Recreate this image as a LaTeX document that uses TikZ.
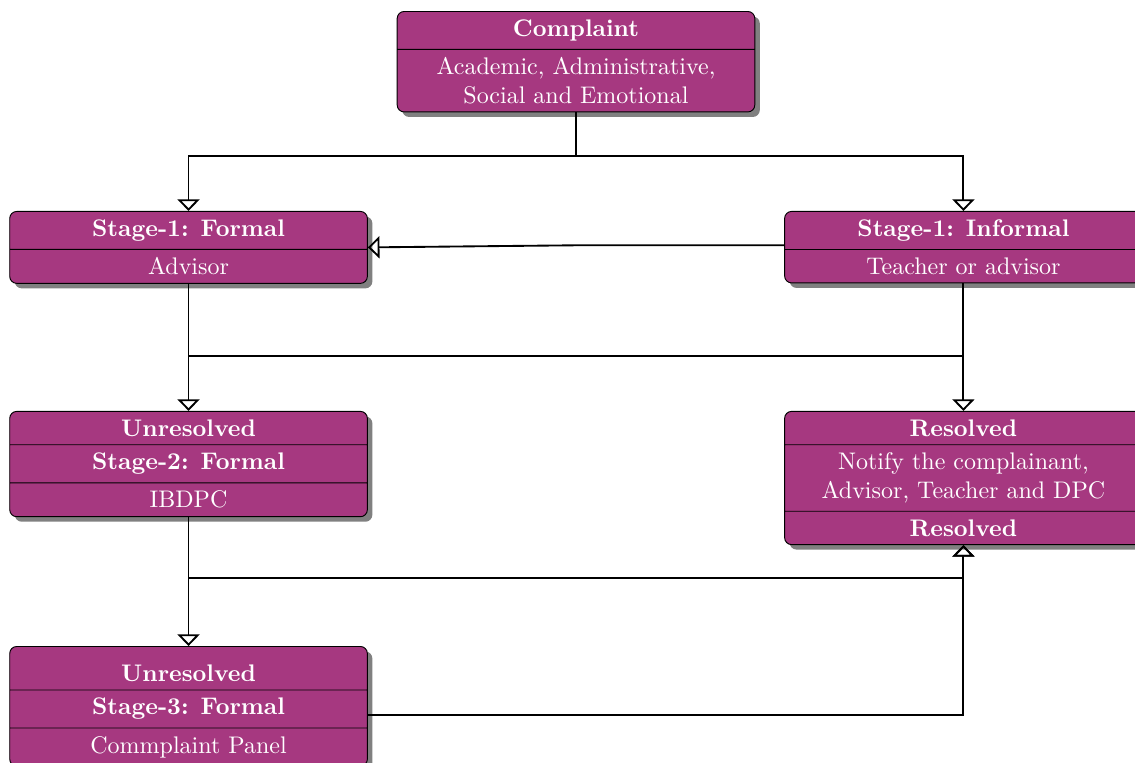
\documentclass[tikz,border=0pt]{standalone}
\usepackage{amsmath}
\usetikzlibrary{shapes.multipart,shadows,arrows.meta}
\definecolor{boxfill}{RGB}{166,56,128}

\begin{document}
\begin{tikzpicture}[scale=0.2]
  \tikzstyle{stagebox}=[rectangle split, draw=black, fill=boxfill, text=white,
    rounded corners=3pt, text width=5.16cm, align=center, anchor=north,
    font=\fontsize{10.3pt}{12.2pt}\selectfont,
    drop shadow={opacity=1, fill=black!50}]
  \tikzstyle{inherit}=[thick, -{Triangle[open, length=5pt, width=9.5pt]}]
  \useasboundingbox (0,0) rectangle (85.6,-57.54);
  % boxes
  \node [stagebox, rectangle split parts=2] (complaint) at (43.44,-0.83)
    {\textbf{Complaint} \nodepart{two} Academic, Administrative,\\ Social and Emotional};
  \node [stagebox, rectangle split parts=2] (formal) at (14.22,-15.91)
    {\textbf{Stage-1: Formal} \nodepart{two} Advisor};
  \node [stagebox, rectangle split parts=2] (informal) at (72.66,-15.91)
    {\textbf{Stage-1: Informal} \nodepart{two} Teacher or advisor};
  \node [stagebox, rectangle split parts=3] (stage2) at (14.22,-30.99)
    {\textbf{Unresolved} \nodepart{two} \textbf{Stage-2: Formal} \nodepart{three} IBDPC};
  \node [stagebox, rectangle split parts=3] (resolved) at (72.66,-30.99)
    {\textbf{Resolved} \nodepart{two} Notify the complainant,\\ Advisor, Teacher and DPC
     \nodepart{three} \textbf{Resolved}};
  \node [stagebox, rectangle split parts=3] (stage3) at (14.22,-48.72)
    {\rule{0pt}{11.5pt}\textbf{Unresolved} \nodepart{two} \textbf{Stage-3: Formal}
     \nodepart{three} Commplaint Panel};
  % junctions
  \coordinate (j1) at (43.44,-11.76);
  \coordinate (j2) at (14.22,-26.85);
  \coordinate (j3) at (14.22,-43.59);
  % connectors
  \draw [thick] (complaint.south) -- (j1);
  \draw [inherit] (j1) -| (formal.north);
  \draw [inherit] (j1) -| (informal.north);
  \draw [inherit] ([yshift=4pt]informal.west) -- +(-15.8,0) -- (formal.east);
  \draw [inherit] (formal.south) -- (stage2.north);
  \draw [inherit] (informal.south) -- (resolved.north);
  \draw [thick] (j2) -- (j2 -| informal.south);
  \draw [inherit] (stage2.south) -- (stage3.north);
  \draw [inherit] (j3) -| (resolved.south);
  \draw [inherit] ([yshift=-13pt]stage3.two east) -| (resolved.south);
\end{tikzpicture}
\end{document}
